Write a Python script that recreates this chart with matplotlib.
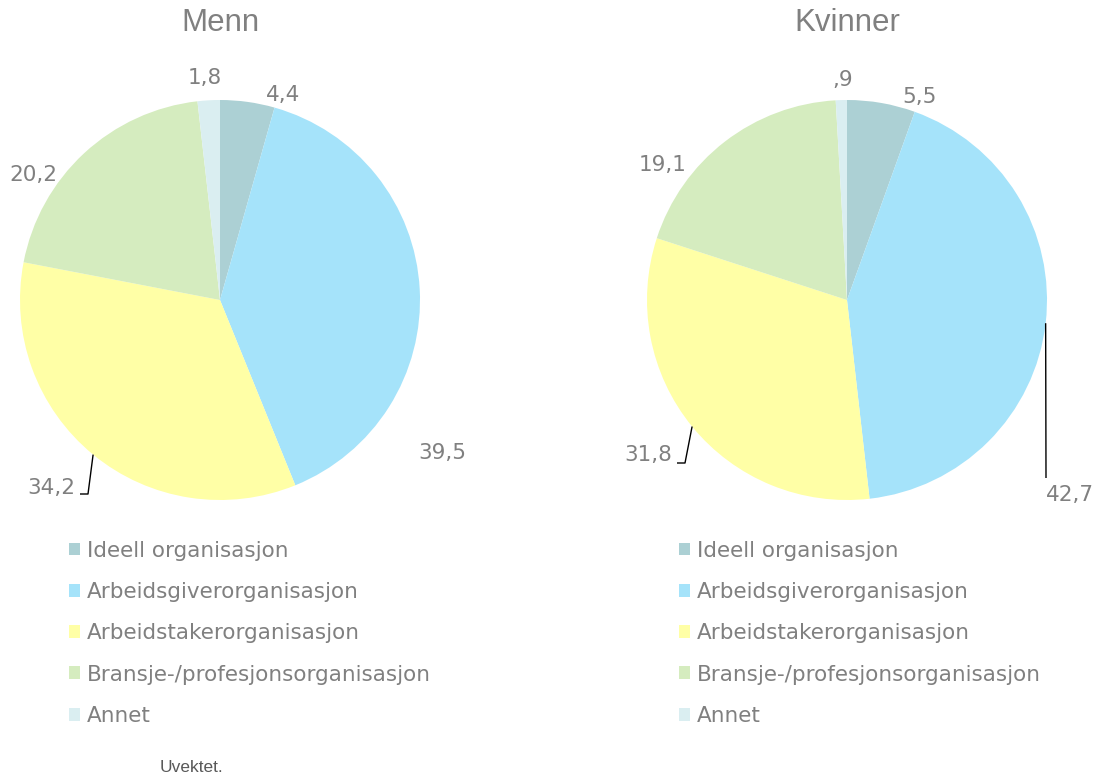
import matplotlib
matplotlib.use("Agg")
import matplotlib.pyplot as plt
import matplotlib.patches as mpatches
import numpy as np

categories = ["Ideell organisasjon", "Arbeidsgiverorganisasjon",
              "Arbeidstakerorganisasjon", "Bransje-/profesjonsorganisasjon", "Annet"]
menn = [4.4, 39.5, 34.2, 20.2, 1.8]
kvinner = [5.5, 42.7, 31.8, 19.1, 0.9]
menn_labels = ["4,4", "39,5", "34,2", "20,2", "1,8"]
kvinner_labels = ["5,5", "42,7", "31,8", "19,1", ",9"]
titles = ["Menn", "Kvinner"]
colors = ["#acd0d4", "#a5e3fa", "#ffffa6", "#d5ecbf", "#daeef1"]

W, H = 1098, 775
fig = plt.figure(figsize=(W / 100, H / 100), dpi=100)
TXT = "#808080"
FS = 15.5
R = 200  # pie radius in pixels


def pie_axes(cx, cy):
    half = 1.1 * R
    ax = fig.add_axes([(cx - half) / W, (H - cy - half) / H, 2 * half / W, 2 * half / H])
    return ax


def mid_point(values, i):
    total = sum(values)
    start = 90 - 360 * sum(values[:i]) / total
    mid = start - 180 * values[i] / total
    t = np.deg2rad(mid)
    return np.cos(t), np.sin(t)


# label placement: (x, y, ha) in pie units, plus optional leader path
layout = {
    0: {"pos": [(0.315, 1.025, "center"), (1.11, -0.765, "center"), (-0.725, -0.94, "right"),
                (-0.935, 0.625, "center"), (-0.075, 1.11, "center")],
        "leaders": {2: [(-0.66, -0.97), (-0.70, -0.97)]}},
    1: {"pos": [(0.365, 1.015, "center"), (1.115, -0.975, "center"), (-0.875, -0.775, "right"),
                (-0.92, 0.675, "center"), (-0.02, 1.10, "center")],
        "leaders": {1: [(0.995, -0.89)], 2: [(-0.81, -0.815), (-0.85, -0.815)]}},
}

datasets = [(menn, menn_labels), (kvinner, kvinner_labels)]
centers = [(220, 300), (847, 300)]
legend_x = [68, 678]

for k, ((vals, labs), (cx, cy)) in enumerate(zip(datasets, centers)):
    ax = pie_axes(cx, cy)
    ax.pie(vals, colors=colors, startangle=90, counterclock=False, radius=1.0,
           wedgeprops=dict(linewidth=0))
    ax.set_xlim(-1.1, 1.1)
    ax.set_ylim(-1.1, 1.1)
    ax.set_aspect("equal")
    ax.axis("off")
    for i, (x, y, ha) in enumerate(layout[k]["pos"]):
        ax.text(x, y, labs[i], ha=ha, va="center", fontsize=FS, color=TXT,
                family="DejaVu Sans")
    for i, pts in layout[k]["leaders"].items():
        mx, my = mid_point(vals, i)
        xs = [mx] + [p[0] for p in pts]
        ys = [my] + [p[1] for p in pts]
        ax.plot(xs, ys, color="black", lw=1.0, solid_capstyle="butt", clip_on=False)
    fig.text(cx / W, 1 - 23 / H, titles[k], ha="center", va="center", fontsize=22.5,
             color=TXT, family="Liberation Sans")
    handles = [mpatches.Patch(facecolor=c, edgecolor="none") for c in colors]
    fig.legend(handles, categories, loc="upper left",
               bbox_to_anchor=((legend_x[k] - 8) / W, 1 - 532 / H),
               frameon=False, fontsize=FS, labelcolor=TXT,
               handlelength=0.55, handleheight=0.55, handletextpad=0.3,
               labelspacing=0.99, borderaxespad=0, borderpad=0.4)

fig.text(160 / W, 1 - 768 / H, "Uvektet.", ha="left", va="center", fontsize=12.5,
         color="#595959", family="Liberation Sans")

fig.savefig("out.png", dpi=100)
